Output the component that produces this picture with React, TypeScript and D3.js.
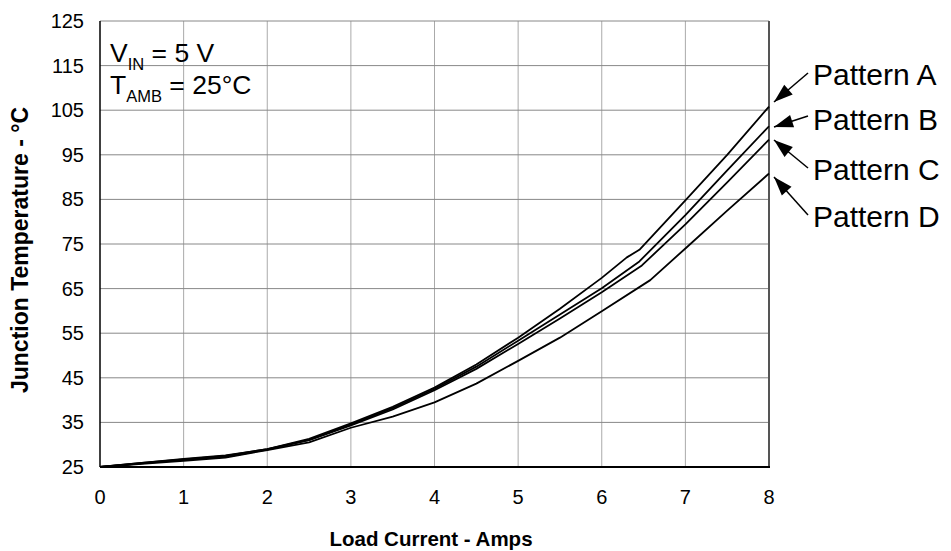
import React from "react";
import * as d3 from "d3";

// load current (A) and junction temperature (°C) per pattern
const currentA = [0, 0.5, 1, 1.5, 2, 2.5, 3, 3.5, 4, 4.5, 5, 5.5, 6, 6.3, 6.45, 7, 7.5, 8];
const tempA = [25, 25.9, 26.8, 27.6, 29, 31.3, 34.8, 38.5, 42.8, 48, 54, 60.5, 67.4, 72, 73.7, 84.8, 95, 105.8];

const currentB = [0, 0.5, 1, 1.5, 2, 2.5, 3, 3.5, 4, 4.5, 5, 5.5, 6, 6.45, 7, 7.5, 8];
const tempB = [25, 25.9, 26.7, 27.5, 29, 31.1, 34.5, 38.2, 42.5, 47.5, 53.3, 59.2, 65.1, 71.1, 81.5, 91.5, 101.4];

const currentC = [0, 0.5, 1, 1.5, 2, 2.5, 3, 3.5, 4, 4.5, 5, 5.5, 6, 6.48, 7, 7.5, 8];
const tempC = [25, 25.8, 26.6, 27.3, 28.9, 31, 34.3, 37.9, 42.2, 47, 52.6, 58.3, 64.2, 70.2, 79.4, 88.8, 98.4];

const currentD = [0, 0.5, 1, 1.5, 2, 2.5, 3, 3.5, 4, 4.5, 5, 5.5, 6, 6.58, 7, 7.5, 8];
const tempD = [25, 25.7, 26.4, 27.1, 28.8, 30.5, 33.8, 36.3, 39.5, 43.7, 48.8, 54, 59.9, 66.9, 74, 82.5, 90.8];

const xTicks = [0, 1, 2, 3, 4, 5, 6, 7, 8];
const yTicks = [25, 35, 45, 55, 65, 75, 85, 95, 105, 115, 125];
const patternNames = ["Pattern A", "Pattern B", "Pattern C", "Pattern D"];

const width = 951;
const height = 551;
const margin = { top: 21, right: 182, bottom: 84, left: 100 };

const font = "'Liberation Sans', Arial, sans-serif";

export default function App() {
  const xScale = d3.scaleLinear().domain([0, 8]).range([margin.left, width - margin.right]);
  const yScale = d3.scaleLinear().domain([25, 125]).range([height - margin.bottom, margin.top]);

  const line = d3.line<[number, number]>()
    .x(d => xScale(d[0]))
    .y(d => yScale(d[1]));

  const series = [
    d3.zip(currentA, tempA),
    d3.zip(currentB, tempB),
    d3.zip(currentC, tempC),
    d3.zip(currentD, tempD),
  ] as [number, number][][];

  const x0 = xScale(0), x1 = xScale(8);
  const y0 = yScale(25), y1 = yScale(125);

  // label arrows: label baseline, line start, tip
  const arrows = [
    { ty: 85, from: [808, 73], to: [774, 102] },
    { ty: 130, from: [808, 116], to: [774, 127] },
    { ty: 180, from: [808, 168], to: [774, 140] },
    { ty: 227, from: [808, 215], to: [774, 177] },
  ];

  const arrowHead = (from: number[], to: number[]) => {
    const dx = to[0] - from[0], dy = to[1] - from[1];
    const len = Math.hypot(dx, dy);
    const ux = dx / len, uy = dy / len;
    const hl = 19, hw = 6.5;
    const bx = to[0] - ux * hl, by = to[1] - uy * hl;
    return `M${to[0]},${to[1]} L${bx - uy * hw},${by + ux * hw} L${bx + uy * hw},${by - ux * hw} Z`;
  };

  return (
    <svg width={width} height={height} style={{ position: "absolute", left: 0, top: 0, background: "#fff" }}>
      {/* grid */}
      {xTicks.slice(1, -1).map(t => (
        <line key={"vx" + t} x1={xScale(t)} x2={xScale(t)} y1={y0} y2={y1} stroke="#aaa" strokeWidth={1} />
      ))}
      {yTicks.slice(1).map(t => (
        <line key={"hy" + t} x1={x0} x2={x1} y1={yScale(t)} y2={yScale(t)} stroke="#888" strokeWidth={1} />
      ))}

      {/* axes */}
      <line x1={x1} x2={x1} y1={y1} y2={y0} stroke="#555" strokeWidth={2} />
      <line x1={x0} x2={x0} y1={y1} y2={y0} stroke="#000" strokeWidth={1.5} />
      <line x1={x0} x2={x1 + 1} y1={y0} y2={y0} stroke="#000" strokeWidth={2.2} />

      {yTicks.map(t => (
        <text key={"yt" + t} x={84} y={yScale(t) + 7} textAnchor="end" fontFamily={font} fontSize={20} fill="#000">
          {t}
        </text>
      ))}
      {xTicks.map(t => (
        <text key={"xt" + t} x={xScale(t)} y={504} textAnchor="middle" fontFamily={font} fontSize={20} fill="#000">
          {t}
        </text>
      ))}

      <text x={431} y={546} textAnchor="middle" fontFamily={font} fontSize={20.5} fontWeight="bold">
        Load Current - Amps
      </text>
      <text transform="translate(28,250) rotate(-90)" textAnchor="middle" fontFamily={font} fontSize={23} fontWeight="bold">
        Junction Temperature - °C
      </text>

      {/* conditions */}
      <text x={110} y={62} fontFamily={font} fontSize={26.5}>
        V<tspan fontSize={16.5} dy={8}>IN</tspan><tspan dy={-8}> = 5 V</tspan>
      </text>
      <text x={110} y={94} fontFamily={font} fontSize={26.5}>
        T<tspan fontSize={16.5} dy={8}>AMB</tspan><tspan dy={-8}> = 25°C</tspan>
      </text>

      {/* curves */}
      {series.map((s, i) => (
        <path key={"s" + i} d={line(s) ?? ""} fill="none" stroke="#000" strokeWidth={1.8} strokeLinejoin="round" />
      ))}

      {/* labels with arrows */}
      {arrows.map((a, i) => (
        <g key={"a" + i}>
          <line x1={a.from[0]} y1={a.from[1]} x2={a.to[0]} y2={a.to[1]} stroke="#000" strokeWidth={1.5} />
          <path d={arrowHead(a.from, a.to)} fill="#000" />
          <text x={813} y={a.ty} fontFamily={font} fontSize={30}>
            {patternNames[i]}
          </text>
        </g>
      ))}
    </svg>
  );
}
